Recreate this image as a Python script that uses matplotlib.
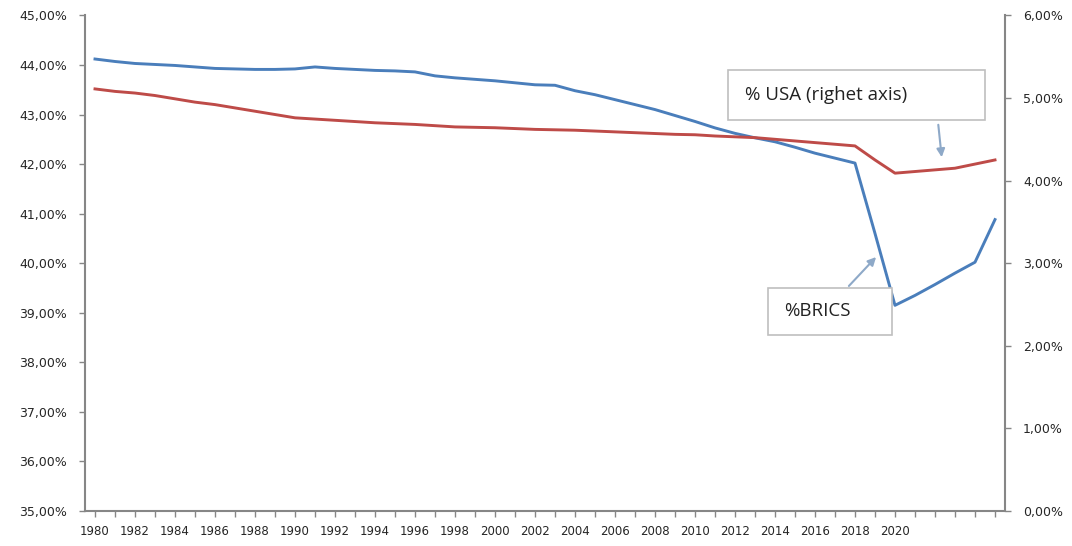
import numpy as np
import matplotlib
matplotlib.use("Agg")
import matplotlib.pyplot as plt
from matplotlib.ticker import FuncFormatter, MultipleLocator
from matplotlib.patches import Rectangle, FancyArrowPatch

years = list(range(1980, 2026))
brics = [44.12, 44.07, 44.03, 44.01, 43.99, 43.96, 43.93, 43.92, 43.91, 43.91,
         43.92, 43.96, 43.93, 43.91, 43.89, 43.88, 43.86, 43.78, 43.74, 43.71,
         43.68, 43.64, 43.60, 43.59, 43.48, 43.40, 43.30, 43.20, 43.10, 42.98,
         42.86, 42.73, 42.62, 42.53, 42.45, 42.34, 42.22, 42.12, 42.02, 40.60,
         39.15, 39.35, 39.57, 39.80, 40.02, 40.88]
usa = [5.11, 5.08, 5.06, 5.03, 4.99, 4.95, 4.92, 4.88, 4.84, 4.80,
       4.76, 4.745, 4.73, 4.715, 4.70, 4.69, 4.68, 4.665, 4.65, 4.645,
       4.64, 4.63, 4.62, 4.615, 4.61, 4.60, 4.59, 4.58, 4.57, 4.56,
       4.555, 4.54, 4.53, 4.52, 4.50, 4.48, 4.46, 4.44, 4.42, 4.25,
       4.09, 4.11, 4.13, 4.15, 4.20, 4.25]
label_years = list(range(1980, 2021, 2))

blue = "#4a7ebb"
red = "#be4b48"
axis_col = "#868686"

W, H = 1072, 546
fig = plt.figure(figsize=(W / 100, H / 100), dpi=100)
ax = fig.add_axes([85 / W, 1 - 511 / H, 920 / W, (511 - 15.4) / H])
ax2 = ax.twinx()

x = np.arange(len(years))
ax.plot(x, brics, color=blue, lw=2.1, zorder=3)
ax2.plot(x, usa, color=red, lw=2.1, zorder=3)

ax.set_xlim(-0.5, len(years) - 0.5)
ax.set_ylim(35, 45)
ax2.set_ylim(0, 6)

ax.yaxis.set_major_locator(MultipleLocator(1))
ax2.yaxis.set_major_locator(MultipleLocator(1))
pct = FuncFormatter(lambda v, p: ("%.2f%%" % v).replace(".", ","))
ax.yaxis.set_major_formatter(pct)
ax2.yaxis.set_major_formatter(pct)

ax.set_xticks(x)
ax.set_xticklabels([str(y) if y in label_years else "" for y in years])

for a in (ax, ax2):
    a.spines["top"].set_visible(False)
    for s in ("left", "right", "bottom"):
        a.spines[s].set_color(axis_col)
        a.spines[s].set_linewidth(1.5)
    a.tick_params(colors=axis_col, labelcolor="#262626", length=4, width=1,
                  labelsize=9, pad=9)
ax.tick_params(axis="x", pad=6, labelsize=8.5)
ax.spines["right"].set_visible(False)
ax2.spines["left"].set_visible(False)
ax2.spines["bottom"].set_visible(False)


def fx(px):
    return px / W


def fy(py):
    return 1 - py / H


# annotation boxes
for (x0, y0, x1, y1, txt, tx) in [(728, 70, 985, 120, "% USA (righet axis)", 745),
                                  (768, 288, 892, 335, "%BRICS", 784)]:
    fig.patches.append(Rectangle((fx(x0), fy(y1)), fx(x1) - fx(x0), fy(y0) - fy(y1),
                                 transform=fig.transFigure, facecolor="white",
                                 edgecolor="#bfbfbf", lw=1.2, zorder=5))
    fig.text(fx(tx), fy((y0 + y1) / 2), txt, fontsize=13.5, family="Open Sans",
             va="center", ha="left", color="#222222", zorder=6)

arrow = dict(arrowstyle="-|>", color="#8ea9c8", lw=1.5, mutation_scale=12)
fig.add_artist(FancyArrowPatch((fx(938), fy(122)), (fx(942), fy(160)),
                               transform=fig.transFigure, **arrow))
fig.add_artist(FancyArrowPatch((fx(847), fy(288)), (fx(878), fy(255)),
                               transform=fig.transFigure, **arrow))

fig.savefig("out.png", dpi=100)
